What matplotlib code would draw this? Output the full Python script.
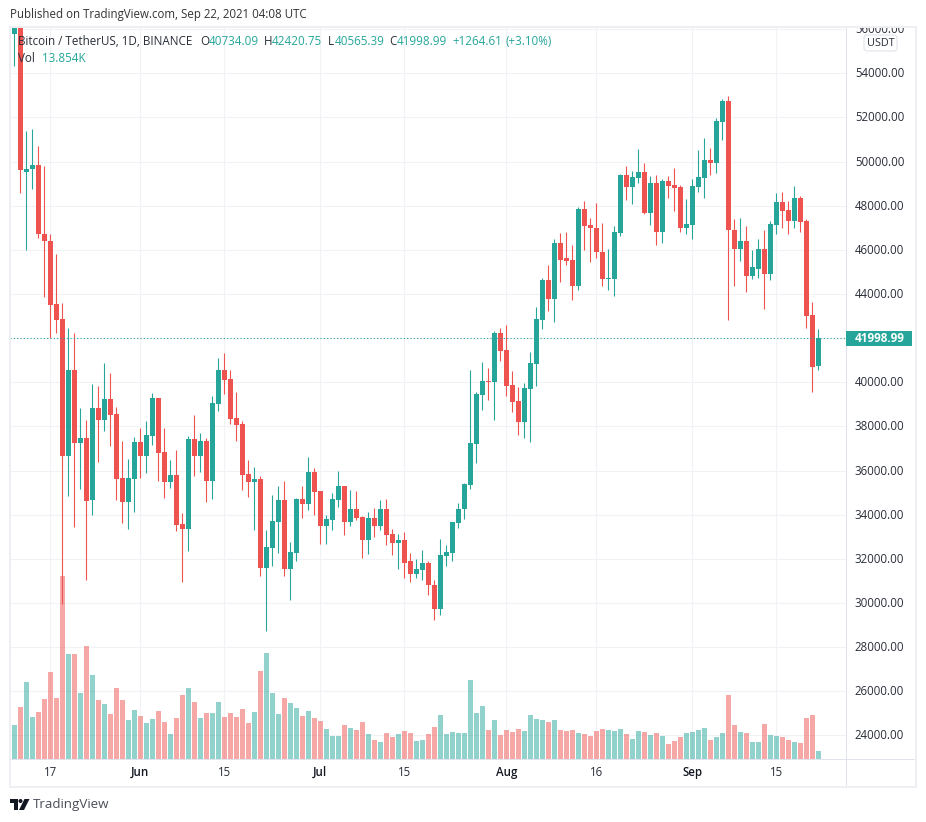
import numpy as np
import pandas as pd
import matplotlib
matplotlib.use("Agg")
import matplotlib.pyplot as plt
import matplotlib.dates as mdates
from matplotlib.patches import Rectangle, Polygon, Circle, FancyBboxPatch
from matplotlib.transforms import Bbox, TransformedBbox, ScaledTranslation

plt.rcParams['font.family'] = ['Open Sans', 'DejaVu Sans']

# BTC/USDT daily candles, first one is cut off by the left edge
start_date = '2021-05-10'

opens = [58000,
    55790, 56670, 49530, 49670, 49830, 46730, 46420, 43560, 42880, 36650,
    40560, 37240, 37470, 34650, 38830, 38290, 39240, 38560, 35650, 34560,
    35610, 37290, 36650, 37560, 39290, 36830, 35470, 35790, 33560, 33330,
    37420, 36650, 37330, 35520, 39020, 40560, 40150, 38380, 38110, 35830,
    35470, 35610, 31560, 32470, 33650, 34650, 31520, 32240, 34700, 34470,
    35920, 35060, 33470, 33740, 34650, 35290, 33650, 34240, 33880, 32830,
    33830, 33470, 34240, 33110, 32700, 32830, 31880, 31330, 31470, 31790,
    30830, 29740, 32110, 32240, 33610, 34240, 35330, 37200, 39420, 40060,
    40020, 42240, 41470, 39880, 39150, 38200, 39700, 40830, 42830, 44610,
    43790, 46290, 45610, 45560, 44380, 47830, 47110, 47010, 45920, 44700,
    44700, 46740, 49380, 48830, 49240, 49510, 47650, 49010, 46830, 49110,
    48920, 48830, 46970, 47110, 48830, 49240, 50060, 49920, 51790, 52740,
    46920, 46060, 46420, 44830, 45150, 46060, 44920, 47110, 48150, 47790,
    47290, 48330, 47290, 43060, 40734.09]

highs = [59000,
    56860, 58000, 51380, 51470, 50700, 49790, 46700, 45790, 43600, 42450,
    42240, 38830, 38290, 39920, 39830, 40880, 40420, 38880, 37330, 36520,
    37520, 37920, 38240, 39520, 39290, 37920, 36470, 36920, 34060, 37560,
    38520, 37700, 37470, 39380, 41110, 41330, 40560, 39560, 38240, 36470,
    36150, 35740, 33290, 34880, 35290, 35520, 32740, 34740, 35290, 36610,
    36110, 35060, 33970, 34970, 35970, 35290, 35110, 35060, 33920, 34110,
    34290, 34650, 34700, 33330, 33110, 33200, 32240, 31970, 32420, 31880,
    31060, 32880, 32610, 33650, 34520, 35420, 40560, 39560, 40920, 40650,
    42330, 42470, 42610, 40520, 39790, 39970, 41380, 43420, 44740, 45330,
    46510, 46740, 46790, 46240, 47920, 48200, 47420, 48110, 47200, 46060,
    47060, 49420, 49790, 49560, 50560, 49920, 49330, 49380, 49200, 49330,
    49700, 48920, 48290, 49200, 50510, 51060, 50610, 51970, 52830, 52970,
    47380, 47420, 47060, 46010, 46510, 46920, 47290, 48560, 48610, 48200,
    48880, 48420, 47380, 43650, 42420.75]

lows = [53500,
    54350, 48570, 45970, 48740, 46530, 43850, 42000, 42240, 29970, 34830,
    33420, 35150, 31060, 33970, 36380, 37790, 37110, 34650, 33610, 33330,
    34110, 35650, 35880, 37150, 35520, 34740, 35200, 33240, 30970, 32330,
    35740, 35920, 34560, 34700, 38700, 39470, 38110, 37330, 35110, 34790,
    33290, 31200, 28740, 31650, 32240, 31240, 30110, 31920, 33830, 34200,
    33970, 32650, 32650, 33290, 34330, 33060, 33470, 33740, 32020, 32200,
    32970, 33290, 32610, 32150, 31520, 31110, 30970, 31110, 31060, 30380,
    29240, 29430, 31650, 31880, 33380, 33790, 35150, 36330, 38740, 39200,
    38290, 40970, 39380, 38650, 37610, 37470, 37290, 39830, 42420, 43240,
    42740, 44560, 45330, 43740, 44200, 45970, 45470, 45650, 44380, 44200,
    43920, 46610, 48240, 48060, 49010, 47610, 47110, 46240, 46330, 48330,
    47740, 46830, 46700, 46510, 48610, 48330, 49380, 49470, 50970, 42830,
    44380, 45510, 44110, 44700, 44740, 43330, 44610, 46700, 47010, 46700,
    47010, 46830, 42470, 39560, 40565.39]

closes = [55800,
    56670, 49600, 49680, 49830, 46700, 46400, 43515, 42830, 36650, 40560,
    37240, 37470, 34610, 38830, 38290, 39240, 38520, 35610, 34560, 35650,
    37290, 36650, 37610, 39290, 36790, 35470, 35790, 33520, 33330, 37420,
    36650, 37330, 35520, 39060, 40560, 40110, 38330, 38060, 35790, 35470,
    35610, 31560, 32520, 33700, 34650, 31520, 32290, 34700, 34470, 35920,
    35020, 33470, 33790, 34700, 35290, 33650, 34240, 33830, 32830, 33830,
    33470, 34240, 33060, 32700, 32830, 31830, 31330, 31520, 31790, 30790,
    29740, 32150, 32290, 33650, 34240, 35380, 37240, 39470, 40060, 40030,
    42240, 41420, 39830, 39110, 38200, 39740, 40880, 42880, 44610, 43790,
    46290, 45560, 45510, 44380, 47830, 47060, 46970, 45880, 44700, 44740,
    46790, 49380, 48830, 49290, 49510, 47650, 49010, 46830, 49110, 48880,
    48790, 46970, 47150, 48880, 49290, 50060, 49920, 51830, 52740, 46880,
    46060, 46420, 44830, 45200, 46060, 44920, 47150, 48150, 47740, 47290,
    48330, 47240, 43020, 40700, 41998.99]

# volume in thousands of BTC
volumes = [81.4,
    58.9, 90.0, 133.3, 72.7, 81.4, 103.9, 150.6, 105.6, 316.8, 181.8,
    181.8, 114.2, 195.6, 145.4, 102.1, 95.2, 77.9, 122.9, 102.1, 67.5,
    84.8, 74.4, 62.3, 69.2, 83.1, 64.0, 43.3, 71.0, 110.8, 122.9,
    98.7, 71.0, 79.6, 79.6, 98.7, 72.7, 79.6, 72.7, 86.6, 62.3,
    81.4, 152.3, 183.5, 114.2, 77.9, 105.6, 96.9, 88.3, 74.4, 83.1,
    71.0, 65.8, 51.9, 39.8, 39.8, 58.9, 53.7, 50.2, 64.0, 43.3,
    32.9, 29.4, 45.0, 38.1, 43.3, 48.5, 45.0, 31.2, 32.9, 43.3,
    55.4, 76.2, 43.3, 46.7, 45.0, 45.0, 136.7, 79.6, 91.7, 50.2,
    67.5, 41.5, 50.2, 46.7, 51.9, 48.5, 76.2, 69.2, 67.5, 64.0,
    67.5, 50.2, 48.5, 50.2, 45.0, 43.3, 39.8, 48.5, 51.9, 50.2,
    48.5, 51.9, 43.3, 34.6, 48.5, 46.7, 41.5, 45.0, 39.8, 26.0,
    31.2, 38.1, 45.0, 46.7, 50.2, 53.7, 32.9, 38.1, 45.0, 110.8,
    58.9, 46.7, 45.0, 29.4, 29.4, 60.6, 41.5, 39.8, 38.1, 32.9,
    29.4, 27.7, 71.0, 76.2, 13.854]

tick_dates = ['2021-05-17', '2021-06-01', '2021-06-15', '2021-07-01', '2021-07-15',
              '2021-08-01', '2021-08-16', '2021-09-01', '2021-09-15']
tick_labels = ['17', 'Jun', '15', 'Jul', '15', 'Aug', '16', 'Sep', '15']
price_ticks = list(range(24000, 58000, 2000))

UP = '#26a69a'
DOWN = '#ef5350'
GRID = '#f1f2f5'
TEXT = '#131722'
W, H = 926, 822

fig = plt.figure(figsize=(W / 100, H / 100), dpi=100, facecolor='white')

# chart pane, in pixels: x 10-846.5, y 28-759.3
left, right, top, bottom = 10, 846.5, 28, 759.3
ax = fig.add_axes([left / W, 1 - bottom / H, (right - left) / W, (bottom - top) / H])

dates = pd.date_range(start_date, periods=len(opens))
x = mdates.date2num(dates)
opens_a, highs_a, lows_a, closes_a = map(np.array, (opens, highs, lows, closes))
colors = np.where(closes_a >= opens_a, UP, DOWN)

px_per_day = 6.0
ax.set_xlim(x[1] + (left - 14.3) / px_per_day, x[1] + (right - 14.3) / px_per_day)
ymin, ymax = 22913, 56052
ax.set_ylim(ymin, ymax)

# volume overlay sits on the pane floor, 0.5777 px per 1K
price_per_px = (ymax - ymin) / (bottom - top)
vol_heights = np.array(volumes) * 0.5777 * price_per_px
ax.bar(x, vol_heights, bottom=ymin, width=5 / px_per_day, color=colors, alpha=0.5, linewidth=0, zorder=2)

# candles
ax.vlines(x, lows_a, highs_a, colors=colors, linewidth=0.8, zorder=3)
body_low = np.minimum(opens_a, closes_a)
body_h = np.maximum(np.abs(closes_a - opens_a), 45)
ax.bar(x, body_h, bottom=body_low, width=5 / px_per_day, color=colors, linewidth=0, zorder=4)

# last price line
ax.axhline(closes[-1], color=UP, linewidth=0.8, linestyle=(0, (1, 2)), zorder=5)

ax.set_axisbelow(True)
ax.grid(True, color=GRID, linewidth=0.75)
ax.set_xticks(mdates.date2num(pd.to_datetime(tick_dates)))
ax.set_xticklabels(tick_labels)
ax.set_yticks(price_ticks)
# 42000 is hidden behind the last price tag, only its grid line shows
ax.set_yticklabels(['' if p == 42000 else f'{p:.2f}' for p in price_ticks])
ax.yaxis.tick_right()
ax.tick_params(axis='both', length=0, labelsize=8.3, labelcolor='#2a2e39')
ax.tick_params(axis='y', pad=6)
ax.tick_params(axis='x', pad=5)
for lbl, name in zip(ax.get_xticklabels(), tick_labels):
    if name.isalpha():
        lbl.set_color(TEXT)
        lbl.set_fontweight('semibold')
for spine in ax.spines.values():
    spine.set_visible(False)

# labels sit a pixel higher than mpl centres them, 56000 is cut by the frame
clip = TransformedBbox(Bbox([[0, 0], [1, 1 - top / H]]), fig.transFigure)
nudge = ScaledTranslation(0, 1 / 100, fig.dpi_scale_trans)
for lbl, p in zip(ax.get_yticklabels(), price_ticks):
    lbl.set_transform(lbl.get_transform() + nudge)
    if p == 56000:
        lbl.set_clip_box(clip)
        lbl.set_clip_on(True)

# overlay in pixel coordinates for the frame, header and logo
ov = fig.add_axes([0, 0, 1, 1], zorder=10)
ov.set_xlim(0, W)
ov.set_ylim(H, 0)
ov.axis('off')
ov.patch.set_alpha(0)

FRAME = '#eeeef3'
SEP = '#e0e3eb'
ov.add_patch(Rectangle((9, 26), 2, 761, color=FRAME, lw=0))
ov.add_patch(Rectangle((914.5, 26), 2, 761, color=FRAME, lw=0))
ov.add_patch(Rectangle((9, 26), 907.5, 2, color=FRAME, lw=0))
ov.add_patch(Rectangle((9, 785.5), 907.5, 2, color=FRAME, lw=0))
ov.add_patch(Rectangle((846, 28), 1, 758, color=SEP, lw=0))
ov.add_patch(Rectangle((11, 759), 904, 1, color=SEP, lw=0))

ov.text(10, 14.5, 'Published on TradingView.com, Sep 22, 2021 04:08 UTC', fontsize=8.3, color='#333333', va='center')

LABEL = '#2a2e39'
TEAL = '#26a69a'
header = [(18, 'Bitcoin / TetherUS, 1D, BINANCE', LABEL), (200, 'O', LABEL), (208.3, '40734.09', TEAL),
          (264.3, 'H', LABEL), (272, '42420.75', TEAL), (328, 'L', LABEL), (334.3, '40565.39', TEAL),
          (389.3, 'C', LABEL), (396.7, '41998.99', TEAL), (452.3, '+1264.61', TEAL), (505, '(+3.10%)', TEAL)]
for hx, txt, col in header:
    ov.text(hx, 41.5, txt, fontsize=8.4, color=col, va='center')
ov.text(18, 58.5, 'Vol', fontsize=8.4, color=LABEL, va='center')
ov.text(42, 58.5, '13.854K', fontsize=8.4, color=TEAL, va='center')

# currency badge
ov.add_patch(FancyBboxPatch((864, 35), 33, 16, boxstyle='round,pad=0,rounding_size=3',
                            facecolor='white', edgecolor=SEP, linewidth=0.8))
ov.text(880.5, 43, 'USDT', fontsize=7.8, color=LABEL, ha='center', va='center')

# last price tag
ov.add_patch(Rectangle((846, 331), 65.5, 15.5, color=UP, lw=0))
ov.text(879.5, 338.8, '41998.99', fontsize=8.5, color='white', fontweight='bold', ha='center', va='center')

# logo
LOGO = '#131722'
ov.add_patch(Polygon([(10, 799), (18, 799), (18, 810), (14, 810), (14, 803), (10, 803)], color=LOGO, lw=0))
ov.add_patch(Circle((20.5, 801), 2, color=LOGO, lw=0))
ov.add_patch(Polygon([(24.5, 799), (29.5, 799), (24, 810), (19, 810)], color=LOGO, lw=0))
ov.text(33, 804.5, 'TradingView', fontsize=9.6, color='#4a4e59', va='center')

fig.savefig('out.png', dpi=100)
